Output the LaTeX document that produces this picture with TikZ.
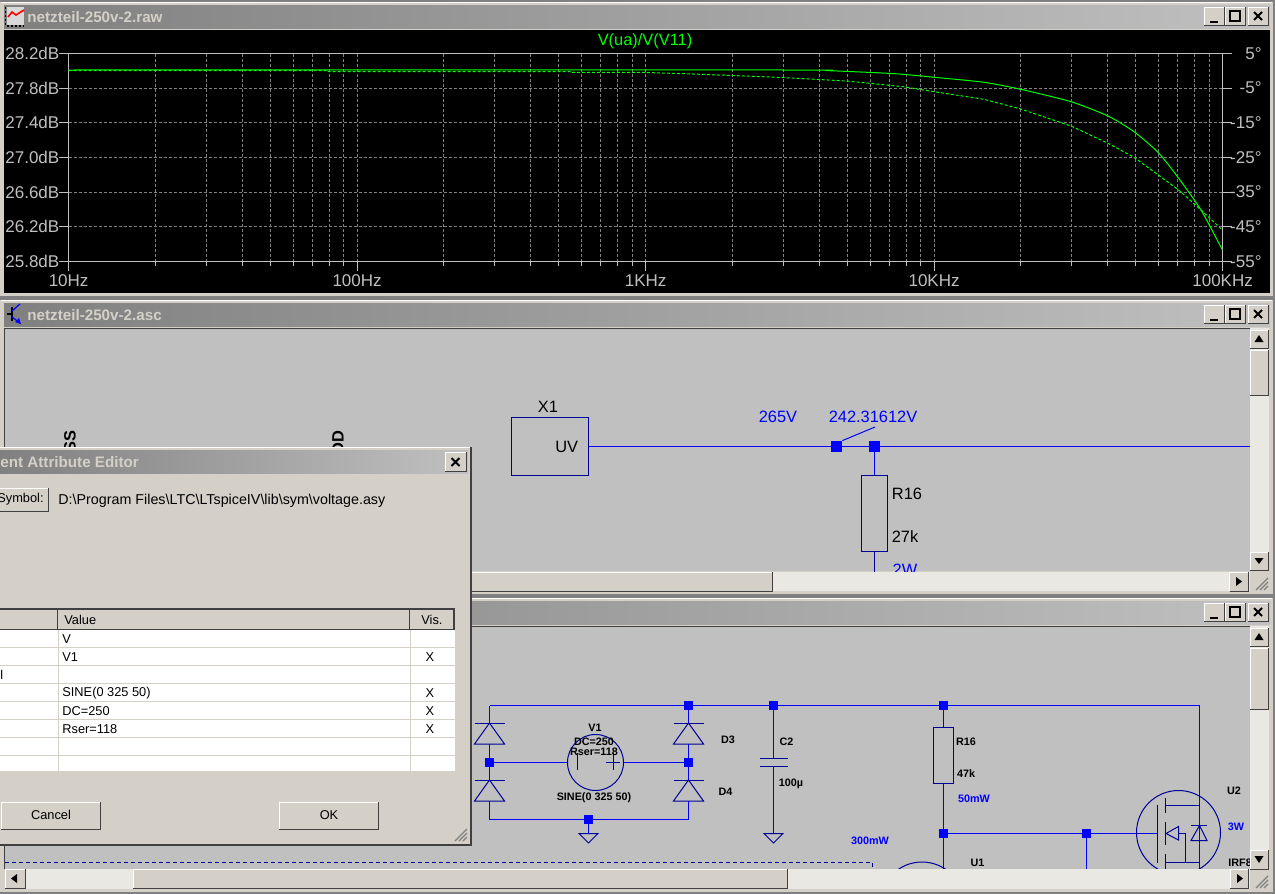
\documentclass[tikz,border=0pt]{standalone}
\usepackage{fontspec}
\setmainfont{Liberation Sans}
\definecolor{winface}{HTML}{D4D0C8}
\definecolor{hatch}{HTML}{EAE8E3}
\definecolor{canvas}{HTML}{C0C0C0}
\definecolor{symb}{HTML}{000098}
\definecolor{wireblue}{HTML}{0000FF}
\definecolor{gridgray}{HTML}{808080}
\definecolor{framegray}{HTML}{404040}
\newcommand{\raised}[4]{%
 \fill[winface] (#1,#2) rectangle (#3,#4);
 \draw[white,line width=0.5pt] (#1,#4) -- (#1,#2) -- (#3,#2);
 \draw[framegray,line width=0.5pt] (#1,#4) -- (#3,#4) -- (#3,#2);}
\newcommand{\grip}[2]{%
 \foreach \g in {0,4,8} \draw[gridgray,line width=0.6pt] (#1+\g,#2+12) -- (#1+12,#2+\g);}
\tikzset{
 wire/.style={wireblue,line width=0.5pt},
 sym/.style={symb,line width=0.5pt},
 junc/.style={rectangle,fill=wireblue,inner sep=0pt,minimum size=4.2pt},
 bigjunc/.style={rectangle,fill=wireblue,inner sep=0pt,minimum width=5.5pt,minimum height=5.5pt},
 res/.style={rectangle,draw=symb,line width=0.5pt,inner sep=0pt},
 grid line/.style={gridgray,line width=0.5pt,dash pattern=on 1.5pt off 1pt},
 axis line/.style={canvas,line width=0.5pt},
 trace/.style={green,line width=0.5pt},
 axis label/.style={inner sep=0pt,text=canvas,font=\fontsize{8.5}{10}\selectfont},
 titletxt/.style={inner sep=0pt,anchor=west,text=winface,font=\fontsize{7.6}{9}\bfseries\selectfont},
 big/.style={inner sep=0pt,font=\fontsize{8.2}{10}\selectfont},
 bigblue/.style={big,text=wireblue},
 small/.style={inner sep=0pt,yshift=-0.4pt,font=\fontsize{5.4}{7}\bfseries\selectfont},
 smallblue/.style={small,text=wireblue},
 dlg/.style={inner sep=0pt,font=\fontsize{6.4}{8}\selectfont},
 diode/.pic={
  \draw[sym] (-15,0) -- (15,0);
  \draw[sym] (0,0) -- (-15,21) -- (15,21) -- cycle;
  \coordinate (-a) at (0,0);
  \coordinate (-k) at (0,21);
 },
 gnd/.pic={
  \draw[sym] (-9.5,0) -- (9.5,0) -- (0,9.5) -- cycle;
  \coordinate (-t) at (0,0);
 }
}
\begin{document}
\begin{tikzpicture}[x=0.5pt,y=-0.5pt]
 \useasboundingbox (0,0) rectangle (1275,894);
 \fill[gridgray] (0,0) rectangle (1275,894);
 \foreach \wy in {2,300,598} {
  \fill[winface] (0,\wy) rectangle (1273,\wy+294);
  \draw[white,line width=0.5pt] (1,\wy+0.5) -- (1272,\wy+0.5);
  \shade[left color=gridgray,right color=canvas] (4,\wy+3) rectangle (1270,\wy+26);
  \raised{1204}{\wy+5}{1224}{\wy+23}
  \raised{1225}{\wy+5}{1245}{\wy+23}
  \raised{1248}{\wy+5}{1268}{\wy+23}
  \draw[black,line width=1pt] (1210,\wy+19.5) -- (1218,\wy+19.5);
  \draw[black,line width=0.7pt] (1230,\wy+9) rectangle (1240,\wy+19);
  \draw[black,line width=0.9pt] (1254,\wy+10) -- (1262,\wy+18) (1262,\wy+10) -- (1254,\wy+18);
 }
 % raw window
 \node[titletxt] (rawtitle) at (27,17) {netzteil-250v-2.raw};
 \fill[canvas!60!white] (7,7) rectangle (24,25);
 \draw[black,line width=0.7pt,dash pattern=on 1pt off 1pt] (5.5,7) -- (5.5,26) -- (24,26);
 \draw[red,line width=0.8pt] (8,17) -- (12,12) -- (16,15) -- (24,10);
 \fill[black] (4,30) rectangle (1270,293);
 \node[trace,inner sep=0pt,font=\fontsize{8.2}{10}\selectfont,text=green] (tracename) at (645,41.5) {V(ua)/V(V11)};
 \foreach \dec in {0,1,2,3} {
  \foreach \f in {2,...,9} {
   \pgfmathsetmacro\xx{68.6+288.5*(\dec+log10(\f))}
   \draw[grid line] (\xx,53.5) -- (\xx,261.5);
   \draw[axis line] (\xx,261.5) -- (\xx,266);
  }
 }
 \foreach \xx/\hz [count=\i] in {68.6/10Hz,357.1/100Hz,645.6/1KHz,934.1/10KHz,1222.6/100KHz} {
  \draw[grid line] (\xx,53.5) -- (\xx,261.5);
  \draw[axis line] (\xx,261.5) -- (\xx,271);
  \node[axis label] (xlabel\i) at (\xx,281) {\hz};
 }
 \draw[axis line] (68.6,53.5) -- (68.6,261.5) (1222.6,53.5) -- (1222.6,261.5);
 \foreach \yy/\db/\deg [count=\i] in {53.5/28.2dB/5°,88/27.8dB/-5°,122.5/27.4dB/-15°,157.5/27.0dB/-25°,192/26.6dB/-35°,226.5/26.2dB/-45°,261.5/25.8dB/-55°} {
  \draw[grid line] (68.6,\yy) -- (1222.6,\yy);
  \draw[axis line] (59,\yy) -- (68.6,\yy) (1222.6,\yy) -- (1232,\yy);
  \node[axis label,anchor=west] (dblabel\i) at (5,\yy) {\db};
  \node[axis label,anchor=east] (deglabel\i) at (1262,\yy) {\deg};
 }
 \draw[axis line] (68.6,53.5) -- (1232,53.5) (59,261.5) -- (1232,261.5);
 \draw[trace] plot[smooth,tension=0.4] coordinates {(68.6,70) (783,70) (829,70.7) (895,73.7) (934.4,77.3) (984,82.3) (1020.7,89.3) (1071,101.7) (1108,116) (1134,131.7) (1158.4,152.7) (1178.7,178.3) (1201,210) (1222.4,250)};
 \draw[trace,dash pattern=on 1.5pt off 1pt] (68.6,70.5) -- (326,70.5) -- (326,71.5) -- (571,71.5) -- (571,72.3) -- (640,72.3) -- (692.7,74) -- (777.7,77.3) -- (846.6,81) -- (903,86.7) -- (934.4,91.7) -- (984,99.3) -- (1020.7,109) -- (1071,126) -- (1108,143.3) -- (1134,157.3) -- (1158.4,175) -- (1178.7,190) -- (1201,210) -- (1222.4,230);
 % asc window
 \node[titletxt] (asctitle) at (27,315) {netzteil-250v-2.asc};
 \draw[black,line width=0.6pt] (7,314) -- (12,314) (12,307) -- (12,321);
 \draw[wireblue,line width=0.6pt] (12,311) -- (20,304) (12,317) -- (20,323);
 \fill[wireblue] (21,324) -- (15,322) -- (19,318) -- cycle;
 \fill[canvas] (5,328) rectangle (1250,571);
 \draw[framegray,line width=0.5pt] (4.5,571) -- (4.5,328) -- (1250,328);
 \begin{scope}
  \clip (5,328) rectangle (1250,571);
  \node[big,font=\fontsize{8.2}{10}\bfseries\selectfont,rotate=90,anchor=east] (vss) at (70,430) {SS};
  \node[big,font=\fontsize{8.2}{10}\bfseries\selectfont,rotate=90,anchor=east] (vdd) at (338,430) {DD};
  \node[res,minimum width=38.5pt,minimum height=29pt] (xone) at (550,446.5) {};
  \node[big,anchor=east] (uvpin) at (578.5,446.5) {UV};
  \node[big] (xonename) at (548,407) {X1};
  \node[bigjunc] (jprobe) at (836.5,446.5) {};
  \node[bigjunc] (jrsix) at (874.5,446.5) {};
  \node[res,minimum width=13pt,minimum height=38pt] (rsix) at (874.5,513.5) {};
  \coordinate (busend) at (1250,446.5);
  \coordinate (rsixend) at (874.5,575);
  \coordinate (probetip) at (875,427);
  \draw[wire] (xone.east) -- (jprobe.west);
  \draw[wire] (jprobe.east) -- (jrsix.west);
  \draw[wire] (jrsix.east) -- (busend);
  \draw[wire] (jrsix.south) -- (rsix.north);
  \draw[sym] (rsix.south) -- (rsixend);
  \draw[wire] (jprobe.north east) -- (probetip);
  \node[bigblue] (vin) at (778,417) {265V};
  \node[bigblue] (vprobe) at (873,417) {242.31612V};
  \node[big] (rsixname) at (907,494) {R16};
  \node[big] (rsixval) at (905,537) {27k};
  \node[bigblue] (rsixpow) at (905,570) {2W};
 \end{scope}
 \fill[hatch] (1250,328) rectangle (1269,571);
 \raised{1250}{330}{1268}{348}
 \raised{1250}{350}{1268}{395}
 \raised{1250}{552}{1268}{570}
 \fill[black] (1259,335) -- (1254.5,342) -- (1263.5,342) -- cycle;
 \fill[black] (1259,564) -- (1254.5,558) -- (1263.5,558) -- cycle;
 \fill[hatch] (5,572) rectangle (1250,591);
 \raised{5}{572}{772.5}{591}
 \raised{1229.5}{572}{1248}{591}
 \fill[black] (1242,581.5) -- (1236,577) -- (1236,586) -- cycle;
 \grip{1256}{578}
 % third window
 \fill[canvas] (5,626) rectangle (1250,869);
 \draw[framegray,line width=0.5pt] (4.5,869) -- (4.5,626) -- (1250,626);
 \begin{scope}
  \clip (5,626) rectangle (1250,869);
  \node[junc] (jtopa) at (688.5,705.5) {};
  \node[junc] (jtopb) at (773.5,705.5) {};
  \node[junc] (jtopc) at (943.5,705.5) {};
  \coordinate (topleft) at (489.5,705.5);
  \coordinate (topright) at (1199.5,705.5);
  \node[junc] (jleft) at (489.5,762.5) {};
  \node[junc] (jright) at (688.5,762.5) {};
  \node[junc] (jgnd) at (588.5,819.5) {};
  \coordinate (botleft) at (489.5,819.5);
  \coordinate (botright) at (688.5,819.5);
  \pic (done) at (489.5,723) {diode};
  \pic (dtwo) at (489.5,780) {diode};
  \pic (dthree) at (688.5,723) {diode};
  \pic (dfour) at (688.5,780) {diode};
  \pic (gndone) at (588.5,833.5) {gnd};
  \pic (gndtwo) at (773.5,833.5) {gnd};
  \node[circle,draw=symb,line width=0.5pt,inner sep=0pt,minimum size=28pt] (vone) at (595.5,762.5) {};
  \draw[sym] (577.5,753) -- (577.5,770) (606,762.5) -- (620,762.5) (613.5,753) -- (613.5,770);
  \draw[wire] (topleft) -- (jtopa.west);
  \draw[wire] (jtopa.east) -- (jtopb.west);
  \draw[wire] (jtopb.east) -- (jtopc.west);
  \draw[wire] (jtopc.east) -- (topright);
  \draw[wire] (topleft) -- (done-a);
  \draw[wire] (done-k) -- (jleft.north);
  \draw[wire] (jleft.south) -- (dtwo-a);
  \draw[wire] (dtwo-k) -- (botleft);
  \draw[wire] (botleft) -- (jgnd.west);
  \draw[wire] (jgnd.east) -- (botright);
  \draw[wire] (jtopa.south) -- (dthree-a);
  \draw[wire] (dthree-k) -- (jright.north);
  \draw[wire] (jright.south) -- (dfour-a);
  \draw[wire] (dfour-k) -- (botright);
  \draw[wire] (jleft.east) -- (vone.west);
  \draw[wire] (vone.east) -- (jright.west);
  \draw[wire] (jgnd.south) -- (gndone-t);
  \coordinate (ctop) at (773.5,758);
  \coordinate (cbot) at (773.5,766);
  \draw[sym] (759.5,758) -- (787.5,758) (759.5,766) -- (787.5,766);
  \draw[wire] (jtopb.south) -- (ctop);
  \draw[wire] (cbot) -- (gndtwo-t);
  \node[res,minimum width=9.7pt,minimum height=28pt] (rmain) at (943.5,755.5) {};
  \node[junc] (jgate) at (943.5,833.5) {};
  \node[junc] (jdrive) at (1086.5,833.5) {};
  \coordinate (uonewire) at (943.5,875);
  \coordinate (drivewire) at (1086.5,875);
  \coordinate (gatepin) at (1157.5,833.5);
  \coordinate (drainend) at (1199.5,875);
  \draw[wire] (jtopc.south) -- (rmain.north);
  \draw[wire] (rmain.south) -- (jgate.north);
  \draw[wire] (jgate.south) -- (uonewire);
  \draw[wire] (jgate.east) -- (jdrive.west);
  \draw[wire] (jdrive.east) -- (gatepin);
  \draw[wire] (jdrive.south) -- (drivewire);
  \draw[wire] (topright) -- (drainend);
  \node[circle,draw=symb,line width=0.5pt,inner sep=0pt,minimum size=42pt] (utwo) at (1178.5,832.5) {};
  \node[circle,draw=symb,line width=0.5pt,inner sep=0pt,minimum size=42pt] (uone) at (922,904) {};
  \draw[sym] (1157.5,805) -- (1157.5,862.5);
  \draw[sym] (1165.5,797.5) -- (1165.5,812.5) (1165.5,822) -- (1165.5,845) (1165.5,854) -- (1165.5,869);
  \draw[sym] (1165.5,805.5) -- (1199.5,805.5) (1165.5,862.5) -- (1199.5,862.5);
  \draw[sym] (1166,833.5) -- (1178.5,826.5) -- (1178.5,840) -- cycle;
  \draw[sym] (1178.5,833.5) -- (1185.5,833.5) -- (1185.5,862.5);
  \draw[sym] (1191,825.5) -- (1207,825.5);
  \draw[sym] (1199.5,825.5) -- (1191,840.5) -- (1207,840.5) -- cycle;
  \draw[symb,line width=0.5pt,dash pattern=on 2pt off 1.5pt] (5,862.5) -- (872.5,862.5) -- (872.5,869);
  \node[small] (vonename) at (595,727) {V1};
  \node[small] (vonedc) at (594,741) {DC=250};
  \node[small] (voneser) at (594,751) {Rser=118};
  \node[small] (vonesine) at (594,797) {SINE(0 325 50)};
  \node[small] (dthreename) at (728,739) {D3};
  \node[small] (dfourname) at (725.5,791) {D4};
  \node[small] (ctwoname) at (786.5,741) {C2};
  \node[small] (ctwoval) at (791,783) {100µ};
  \node[small] (rmainname) at (966,741) {R16};
  \node[small] (rmainval) at (966,773) {47k};
  \node[smallblue] (rmainpow) at (974,798) {50mW};
  \node[smallblue] (uonepow) at (870,840) {300mW};
  \node[small] (uonename) at (977.5,862) {U1};
  \node[small] (utwoname) at (1234,790) {U2};
  \node[smallblue] (utwopow) at (1236,826) {3W};
  \node[small,anchor=west] (utwoval) at (1228,862) {IRF8};
 \end{scope}
 \fill[hatch] (1250,626) rectangle (1269,869);
 \fill[winface] (1249,869) rectangle (1269,890);
 \raised{1250}{628}{1268}{646}
 \raised{1250}{648}{1268}{709}
 \raised{1250}{850}{1268}{869}
 \fill[black] (1259,633) -- (1254.5,640) -- (1263.5,640) -- cycle;
 \fill[black] (1259,863) -- (1254.5,856) -- (1263.5,856) -- cycle;
 \fill[hatch] (5,869) rectangle (1250,889);
 \raised{5}{869}{25}{888}
 \raised{133}{869}{787}{888}
 \raised{1230}{869}{1248}{888}
 \fill[black] (11,878.5) -- (17,874) -- (17,883) -- cycle;
 \fill[black] (1243,878.5) -- (1237,874) -- (1237,883) -- cycle;
 \grip{1256}{876}
 % attribute editor
 \fill[winface] (0,447) rectangle (471,845);
 \draw[white,line width=0.5pt] (0,447.5) -- (471,447.5);
 \draw[framegray,line width=1pt] (0,845) -- (471,845) -- (471,447);
 \shade[left color=gridgray,right color=canvas] (0,450) rectangle (468,473);
 \node[titletxt] (dlgtitle) at (0,462) {ent Attribute Editor};
 \raised{445}{452}{466}{471}
 \draw[black,line width=0.9pt] (451.5,458) -- (459.5,466) (459.5,458) -- (451.5,466);
 \raised{-6}{488}{48}{511}
 \node[dlg,anchor=east] (symbolbtn) at (44,499) {Symbol:};
 \node[dlg,anchor=west,font=\fontsize{7.15}{9}\selectfont] (symbolpath) at (58,501) {D:\textbackslash Program Files\textbackslash LTC\textbackslash LTspiceIV\textbackslash lib\textbackslash sym\textbackslash voltage.asy};
 \fill[white] (0,630) rectangle (455,771.5);
 \foreach \yy in {647.5,665.5,683.5,701.5,719.5,737.5,755.5,771.5}
  \draw[winface,line width=0.5pt] (0,\yy) -- (455,\yy);
 \draw[winface,line width=0.5pt] (58.5,630) -- (58.5,771.5) (410.5,630) -- (410.5,771.5) (455,630) -- (455,771.5);
 \draw[framegray,line width=0.8pt] (0,609) -- (454,609) -- (454,629.5) -- (0,629.5) (57.5,609) -- (57.5,629.5) (409.5,609) -- (409.5,629.5);
 \node[dlg,anchor=west] (valuehead) at (64,620) {Value};
 \node[dlg,anchor=west] (vishead) at (421,620) {Vis.};
 \node[dlg,anchor=west] (namecut) at (0,675) {l};
 \foreach \yy/\attr [count=\i] in {639/V,657/V1,693/SINE(0 325 50),711/DC=250,729/Rser=118}
  \node[dlg,anchor=west] (attr\i) at (62,\yy) {\attr};
 \foreach \yy [count=\i] in {657,693,711,729}
  \node[dlg] (vismark\i) at (430,\yy) {X};
 \raised{1}{802}{100}{829}
 \raised{279}{802}{378}{829}
 \node[dlg] (cancelbtn) at (51,815) {Cancel};
 \node[dlg] (okbtn) at (329,815) {OK};
 \grip{455}{829}
\end{tikzpicture}
\end{document}
